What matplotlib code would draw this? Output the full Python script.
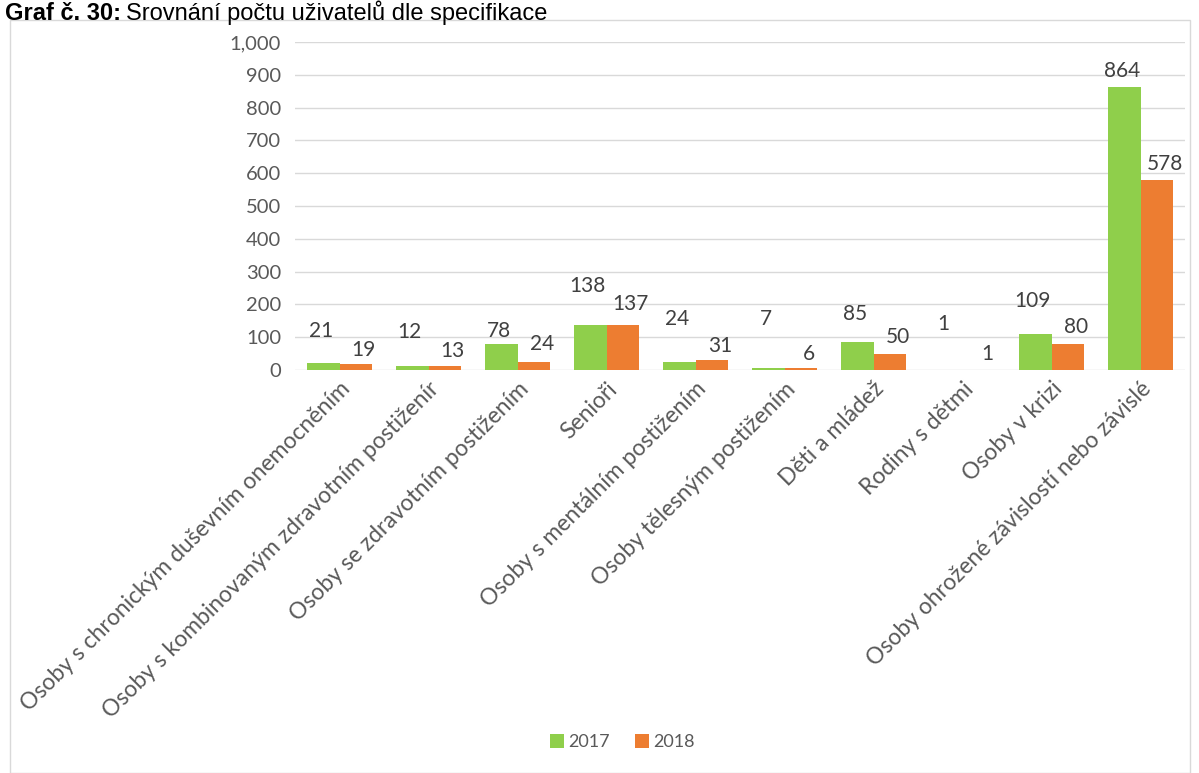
import matplotlib.pyplot as plt
import numpy as np
from matplotlib.patches import Rectangle

categories = [
    "Osoby s chronickým duševním onemocněním",
    "Osoby s kombinovaným zdravotním postižením",
    "Osoby se zdravotním postižením",
    "Senioři",
    "Osoby s mentálním postižením",
    "Osoby tělesným postižením",
    "Děti a mládež",
    "Rodiny s dětmi",
    "Osoby v krizi",
    "Osoby ohrožené závislostí nebo závislé",
]
# the second label is cut off in the source chart
tick_labels = categories[:]
tick_labels[1] = "Osoby s kombinovaným zdravotním postiženír"
values_2017 = [21, 12, 78, 138, 24, 7, 85, 1, 109, 864]
values_2018 = [19, 13, 24, 137, 31, 6, 50, 1, 80, 578]
years = ["2017", "2018"]

# label offsets (pixels above bar top), Excel placed them by hand
off_2017 = [22, 24, 3, 29, 33, 39, 18, 36, 23, 6]
off_2018 = [4, 5, 8, 11, 4, 4, 7, 6, 7, 6]

green = "#8FCF4B"
orange = "#ED7D31"
font = "Lato"

fig = plt.figure(figsize=(11.99, 7.73), dpi=100)
ax = fig.add_axes([295 / 1199, 403 / 773, 890 / 1199, 328 / 773])

x = np.arange(len(categories))
w = 0.36
ax.bar(x - w / 2, values_2017, w, color=green, label=years[0], zorder=2)
ax.bar(x + w / 2, values_2018, w, color=orange, label=years[1], zorder=2)

for i in range(len(x)):
    ax.annotate(str(values_2017[i]), (x[i] - w / 2, values_2017[i]),
                xytext=(-2, off_2017[i] * 0.72), textcoords="offset points",
                ha="center", va="bottom", fontsize=15, color="#404040",
                family=font)
    ax.annotate(str(values_2018[i]), (x[i] + w / 2, values_2018[i]),
                xytext=(6, off_2018[i] * 0.72), textcoords="offset points",
                ha="center", va="bottom", fontsize=15, color="#404040",
                family=font)

ax.set_xlim(-0.5, 9.5)
ax.set_ylim(0, 1000)
ax.set_yticks(range(0, 1001, 100))
ax.set_yticklabels([f"{v:,}" for v in range(0, 1001, 100)],
                   fontsize=14.5, color="#595959", family=font)
ax.yaxis.grid(True, color="#D9D9D9", linewidth=1, zorder=0)
ax.tick_params(axis="y", length=0, pad=10)
ax.tick_params(axis="x", length=0, pad=6)
ax.set_xticks(x)
ax.set_xticklabels(tick_labels, rotation=45, ha="right",
                   rotation_mode="anchor", fontsize=16.5, color="#595959",
                   family=font)
for s in ax.spines.values():
    s.set_visible(False)

ax.legend(loc="center", bbox_to_anchor=(622 / 1199, 31 / 773),
          bbox_transform=fig.transFigure, ncol=2, frameon=False,
          handlelength=0.8, handleheight=0.8, handletextpad=0.2,
          columnspacing=1.4, prop={"family": font, "size": 13},
          labelcolor="#595959")

# chart border
fig.patches.append(Rectangle((10 / 1199, 0), 1180 / 1199, 753 / 773,
                             transform=fig.transFigure, fill=False,
                             edgecolor="#D9D9D9", linewidth=1))

t = fig.text(5 / 1199, 1 - 20 / 773, "Graf č. 30:", fontsize=17,
             fontweight="bold", family="Liberation Sans", va="baseline")
fig.canvas.draw()
bb = t.get_window_extent()
fig.text((bb.x1 + 5) / 1199, 1 - 20 / 773,
         "Srovnání počtu uživatelů dle specifikace", fontsize=17,
         family="Liberation Sans", va="baseline")

fig.savefig("out.png", dpi=100)
